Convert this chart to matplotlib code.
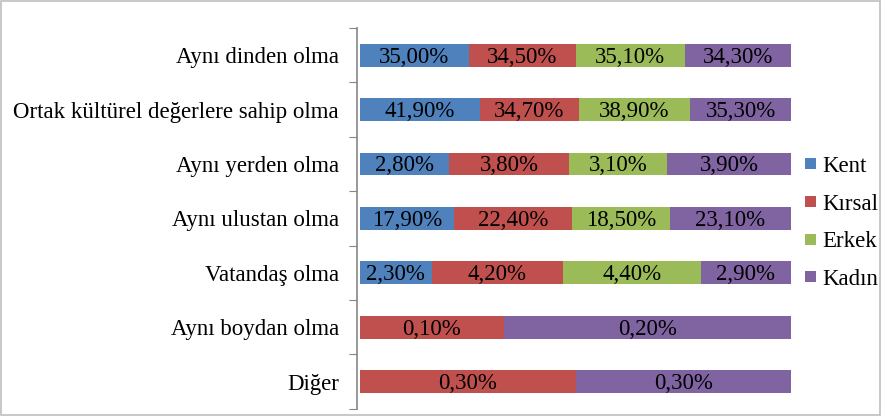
import matplotlib
matplotlib.use("Agg")
import matplotlib.pyplot as plt
from matplotlib.patches import Rectangle, Patch
import numpy as np

FONT = "Liberation Serif"
plt.rcParams['font.family'] = [FONT, 'DejaVu Serif']
FS = 16.5

categories = ["Aynı dinden olma", "Ortak kültürel değerlere sahip olma", "Aynı yerden olma",
              "Aynı ulustan olma", "Vatandaş olma", "Aynı boydan olma", "Diğer"]
series_names = ["Kent", "Kırsal", "Erkek", "Kadın"]
kent = [35.0, 41.9, 2.8, 17.9, 2.3, 0.0, 0.0]
kirsal = [34.5, 34.7, 3.8, 22.4, 4.2, 0.1, 0.3]
erkek = [35.1, 38.9, 3.1, 18.5, 4.4, 0.0, 0.0]
kadin = [34.3, 35.3, 3.9, 23.1, 2.9, 0.2, 0.3]
colors = ["#4F81BD", "#C0504D", "#9BBB59", "#8064A2"]

data = np.array([kent, kirsal, erkek, kadin])
totals = data.sum(axis=0)
frac = data / totals

fig = plt.figure(figsize=(8.82, 4.16), dpi=100)
ax = fig.add_axes([0.408, 0.017, 0.489, 0.916])

n = len(categories)
y = np.arange(n)
left = np.zeros(n)
for i, name in enumerate(series_names):
    ax.barh(y, frac[i], left=left, height=0.42, color=colors[i], label=name)
    for j in range(n):
        if data[i, j] > 0:
            ax.text(left[j] + frac[i, j] / 2, y[j] + 0.137, f"{data[i, j]:.2f}%".replace(".", ","),
                    ha="center", va="baseline", fontsize=FS, color="black", family=FONT)
    left += frac[i]

ax.set_xlim(0, 1)
ax.set_ylim(n - 0.5, -0.5)
ax.set_yticks(np.arange(-0.5, n, 1.0))
ax.set_yticklabels([])
ax.set_yticks(y, minor=True)
ax.set_yticklabels(categories, minor=True, family=FONT)
ax.tick_params(axis="y", which="major", length=6, color="#868686", direction="out")
ax.tick_params(axis="y", which="minor", length=0, pad=13, labelsize=FS)
ax.set_xticks([])
for s in ["top", "right", "bottom"]:
    ax.spines[s].set_visible(False)
ax.spines["left"].set_color("#868686")
ax.spines["left"].set_linewidth(1.2)
ax.spines["left"].set_position(("outward", 2))

handles = [Patch(facecolor=c, edgecolor="none") for c in colors]
fig.legend(handles, series_names, loc="center left", bbox_to_anchor=(0.9127, 0.464),
           frameon=False, prop={"family": FONT, "size": FS},
           handlelength=0.48, handleheight=0.35, handletextpad=0.26, labelspacing=0.73,
           borderaxespad=0, borderpad=0)

fig.patches.append(Rectangle((0.001, 0.002), 0.997, 0.995, transform=fig.transFigure,
                             fill=False, edgecolor="#BFBFBF", linewidth=1.2))

fig.savefig("out.png", dpi=100)
